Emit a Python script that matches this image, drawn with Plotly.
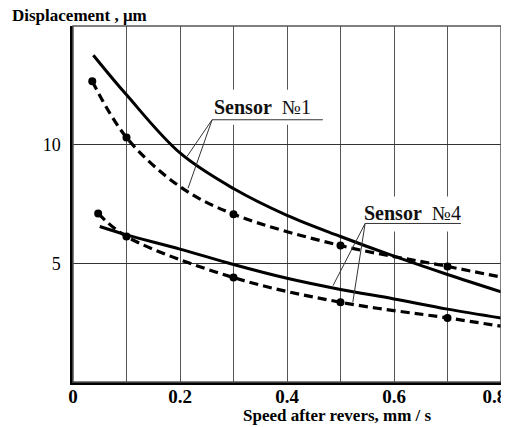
import plotly.graph_objects as go

# Sensor №1
s1_solid_x = [0.038, 0.1, 0.2, 0.3, 0.4, 0.5, 0.6, 0.7, 0.8]
s1_solid_y = [13.77, 12.1, 9.65, 8.15, 7.02, 6.13, 5.3, 4.53, 3.8]
s1_dash_x = [0.036, 0.1, 0.2, 0.3, 0.5, 0.7, 0.8]
s1_dash_y = [12.67, 10.3, 8.23, 7.07, 5.75, 4.87, 4.42]
s1_meas_x = [0.036, 0.1, 0.3, 0.5, 0.7]
s1_meas_y = [12.67, 10.3, 7.07, 5.75, 4.87]

# Sensor №4
s4_solid_x = [0.05, 0.1, 0.2, 0.3, 0.4, 0.5, 0.6, 0.7, 0.8]
s4_solid_y = [6.55, 6.2, 5.6, 4.95, 4.37, 3.9, 3.5, 3.07, 2.7]
s4_dash_x = [0.047, 0.1, 0.3, 0.5, 0.7, 0.8]
s4_dash_y = [7.1, 6.13, 4.4, 3.36, 2.7, 2.35]
s4_meas_x = [0.047, 0.1, 0.3, 0.5, 0.7]
s4_meas_y = [7.1, 6.13, 4.4, 3.36, 2.7]

x_tickvals = [0, 0.2, 0.4, 0.6, 0.8]
x_ticktext = ["0", "0.2", "0.4", "0.6", "0.8\u2007\u2009"]
x_minor = [0.1, 0.3, 0.5, 0.7]
y_tickvals = [5, 10]
y_ticktext = ["5", "10"]

FONT = "Liberation Serif"
BLACK = "#000000"
GRID = "#555555"

fig = go.Figure()
solid = dict(color=BLACK, width=3, shape="spline", smoothing=1.0)
dashed = dict(color=BLACK, width=3.2, dash="9px,5px", shape="spline", smoothing=1.0)

for xs, ys in [(s1_solid_x, s1_solid_y), (s4_solid_x, s4_solid_y)]:
    fig.add_trace(go.Scatter(x=xs, y=ys, mode="lines", line=solid, hoverinfo="skip"))
for xs, ys in [(s1_dash_x, s1_dash_y), (s4_dash_x, s4_dash_y)]:
    fig.add_trace(go.Scatter(x=xs, y=ys, mode="lines", line=dashed, hoverinfo="skip"))
for xs, ys in [(s1_meas_x, s1_meas_y), (s4_meas_x, s4_meas_y)]:
    fig.add_trace(go.Scatter(x=xs, y=ys, mode="markers",
                             marker=dict(color=BLACK, size=8, symbol="circle"), hoverinfo="skip"))

label_specs = [
    ("<b>Sensor</b>  №1", 0.355, 11.6, (0.247, 0.471, 10.84, 12.31), (0.26, 0.467), 11.05,
     [(0.213, 9.5), (0.215, 8.16)]),
    ("<b>Sensor</b>  №4", 0.634, 7.1, (0.536, 0.733, 6.34, 7.82), (0.546, 0.725), 6.68,
     [(0.486, 4.06), (0.523, 3.36)]),
]
shapes = []
annotations = []
for text, tx, ty, box, ux, uy, ends in label_specs:
    shapes.append(dict(type="rect", xref="x", yref="y", x0=box[0], x1=box[1], y0=box[2], y1=box[3],
                       fillcolor="white", line=dict(width=0), layer="between"))
    shapes.append(dict(type="line", xref="x", yref="y", x0=ux[0], x1=ux[1], y0=uy, y1=uy,
                       line=dict(color="#333333", width=1), layer="above"))
    for ex, ey in ends:
        shapes.append(dict(type="line", xref="x", yref="y", x0=ux[0], y0=uy, x1=ex, y1=ey,
                           line=dict(color="#333333", width=1), layer="above"))
    annotations.append(dict(x=tx, y=ty, xref="x", yref="y", text=text, showarrow=False,
                            font=dict(family=FONT, size=20, color="#111111"),
                            xanchor="center", yanchor="middle"))

# frame (top/right)
shapes.append(dict(type="rect", xref="paper", yref="paper", x0=0, x1=1, y0=0, y1=1,
                   line=dict(color="#555555", width=1.5), layer="above"))

annotations.append(dict(x=-0.147, y=1.0295, xref="paper", yref="paper",
                        text="<b>Displacement , μm</b>", showarrow=False,
                        font=dict(family=FONT, size=17, color=BLACK),
                        xanchor="left", yanchor="middle"))
annotations.append(dict(x=0.617, y=-0.093, xref="paper", yref="paper",
                        text="<b>Speed after revers, mm / s</b>", showarrow=False,
                        font=dict(family=FONT, size=17, color=BLACK),
                        xanchor="center", yanchor="middle"))

# the page body has an 8px margin, so the figure is sized/margined to land the
# plot area at the reference position inside the 509x427 window
fig.update_layout(
    width=501, height=419,
    margin=dict(l=65, r=8, t=18, b=45, autoexpand=False),
    paper_bgcolor="white", plot_bgcolor="white",
    showlegend=False,
    shapes=shapes, annotations=annotations,
    xaxis=dict(range=[0, 0.8], tickvals=x_tickvals, ticktext=x_ticktext,
               showgrid=True, gridcolor=GRID, gridwidth=1,
               minor=dict(tickvals=x_minor, showgrid=True, gridcolor=GRID, gridwidth=1),
               showline=True, linecolor=BLACK, linewidth=2.5, ticks="", zeroline=False,
               ticklabelstandoff=-5, ticklabeloverflow="allow", automargin=False,
               tickfont=dict(family=FONT, size=19, color=BLACK, weight="bold")),
    yaxis=dict(range=[0, 15], tickvals=y_tickvals, ticktext=y_ticktext,
               showgrid=True, gridcolor="#333333", gridwidth=1,
               showline=True, linecolor=BLACK, linewidth=2.5, ticks="", zeroline=False,
               ticklabelstandoff=6, automargin=False,
               tickfont=dict(family=FONT, size=18, color=BLACK)),
)

fig.write_html("out.html")
